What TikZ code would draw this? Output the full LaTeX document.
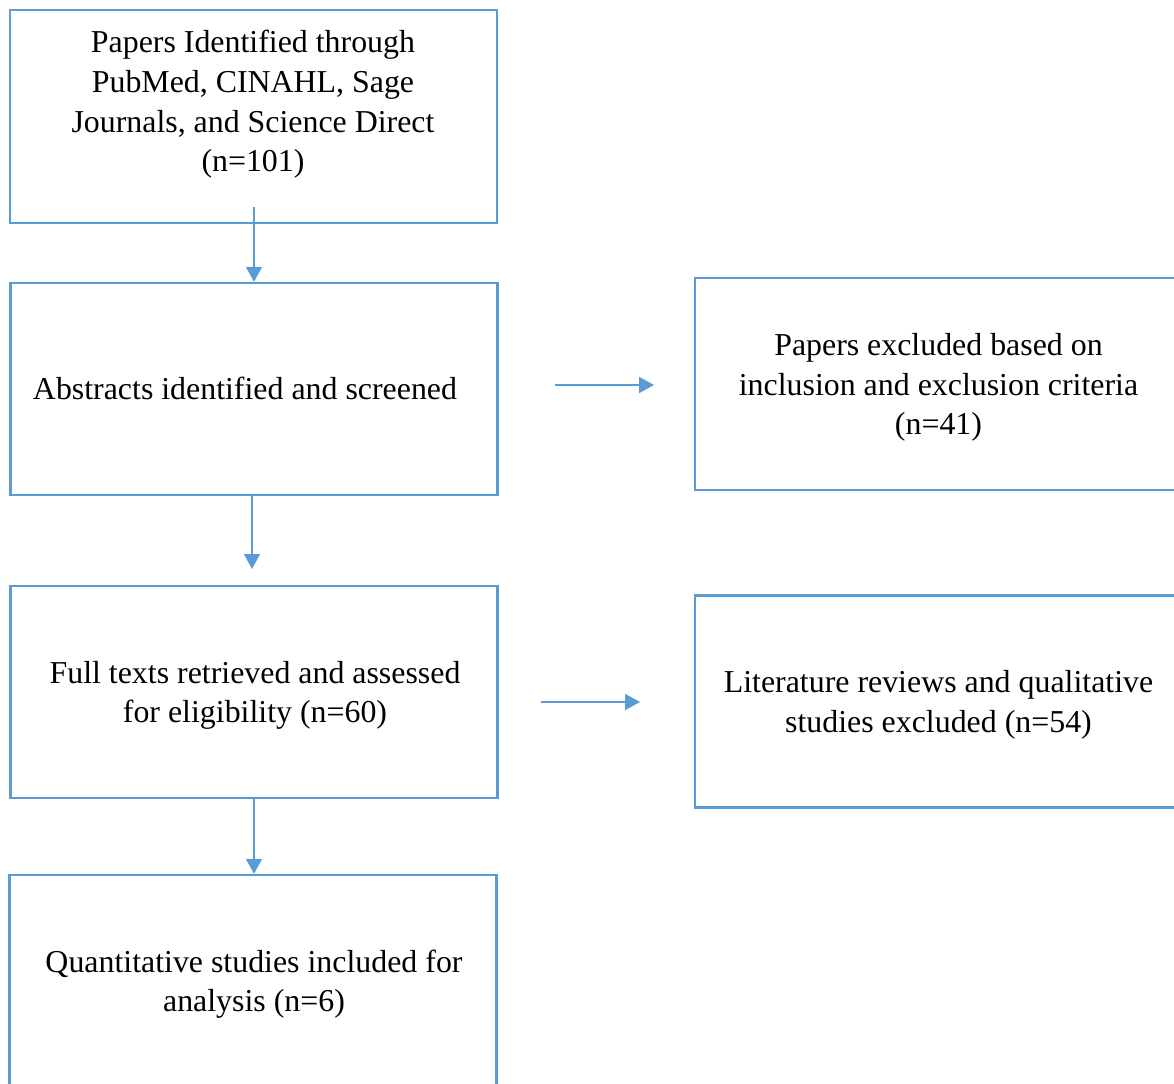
\documentclass[tikz,border=0pt]{standalone}
\usepackage{fontspec}
\setmainfont{Liberation Serif}
\usetikzlibrary{arrows.meta}
\definecolor{flowblue}{HTML}{5B9BD5}

\begin{document}
\begin{tikzpicture}[x=0.3764pt,y=-0.3764pt,
  box/.style={draw=flowblue, line width=0.9pt, minimum width=183.3pt, minimum height=79.8pt, inner sep=0pt},
  txt/.style={align=center, inner sep=0pt, font=\fontsize{12pt}{14.9pt}\selectfont},
  arr/.style={draw=flowblue, line width=0.5pt, -{Triangle[length=5.6pt,width=6pt]}}]
\useasboundingbox (0,0) rectangle (1174,1084);
\clip (0,0) rectangle (1174,1084);

% Draw the boxes
\node[box, minimum height=80.2pt] (ident) at (253.5,116.5) {};
\node[box] (screen) at (254,389) {};
\node[box] (excl) at (938.5,384) {};
\node[box] (full) at (254,692) {};
\node[box] (litrev) at (938.5,701.5) {};
\node[box] (incl) at (253,981) {};

% Labels
\node[txt] (identtxt) at (253,104.5) {Papers Identified through\\PubMed, CINAHL, Sage\\Journals, and Science Direct\\(n=101)};
\node[txt] (screentxt) at (245,388) {Abstracts identified and screened};
\node[txt] (excltxt) at (938.5,387.5) {Papers excluded based on\\inclusion and exclusion criteria\\(n=41)};
\node[txt] (fulltxt) at (255,695.5) {Full texts retrieved and assessed\\for eligibility (n=60)};
\node[txt] (litrevtxt) at (938.5,705) {Literature reviews and qualitative\\studies excluded (n=54)};
\node[txt] (incltxt) at (254,984) {Quantitative studies included for\\analysis (n=6)};

% Arrow ends
\coordinate (a1) at (254,207);
\coordinate (a2s) at (555,385);
\coordinate (a2e) at (654,385);
\coordinate (a3s) at (252,495);
\coordinate (a3e) at (252,569);
\coordinate (a4s) at (541,702);
\coordinate (a4e) at (640,702);

% Arrows
\draw[arr] (a1) -- (screen.north);
\draw[arr] (a2s) -- (a2e);
\draw[arr] (a3s) -- (a3e);
\draw[arr] (a4s) -- (a4e);
\draw[arr] (full.south) -- (full.south |- incl.north);
\end{tikzpicture}
\end{document}
